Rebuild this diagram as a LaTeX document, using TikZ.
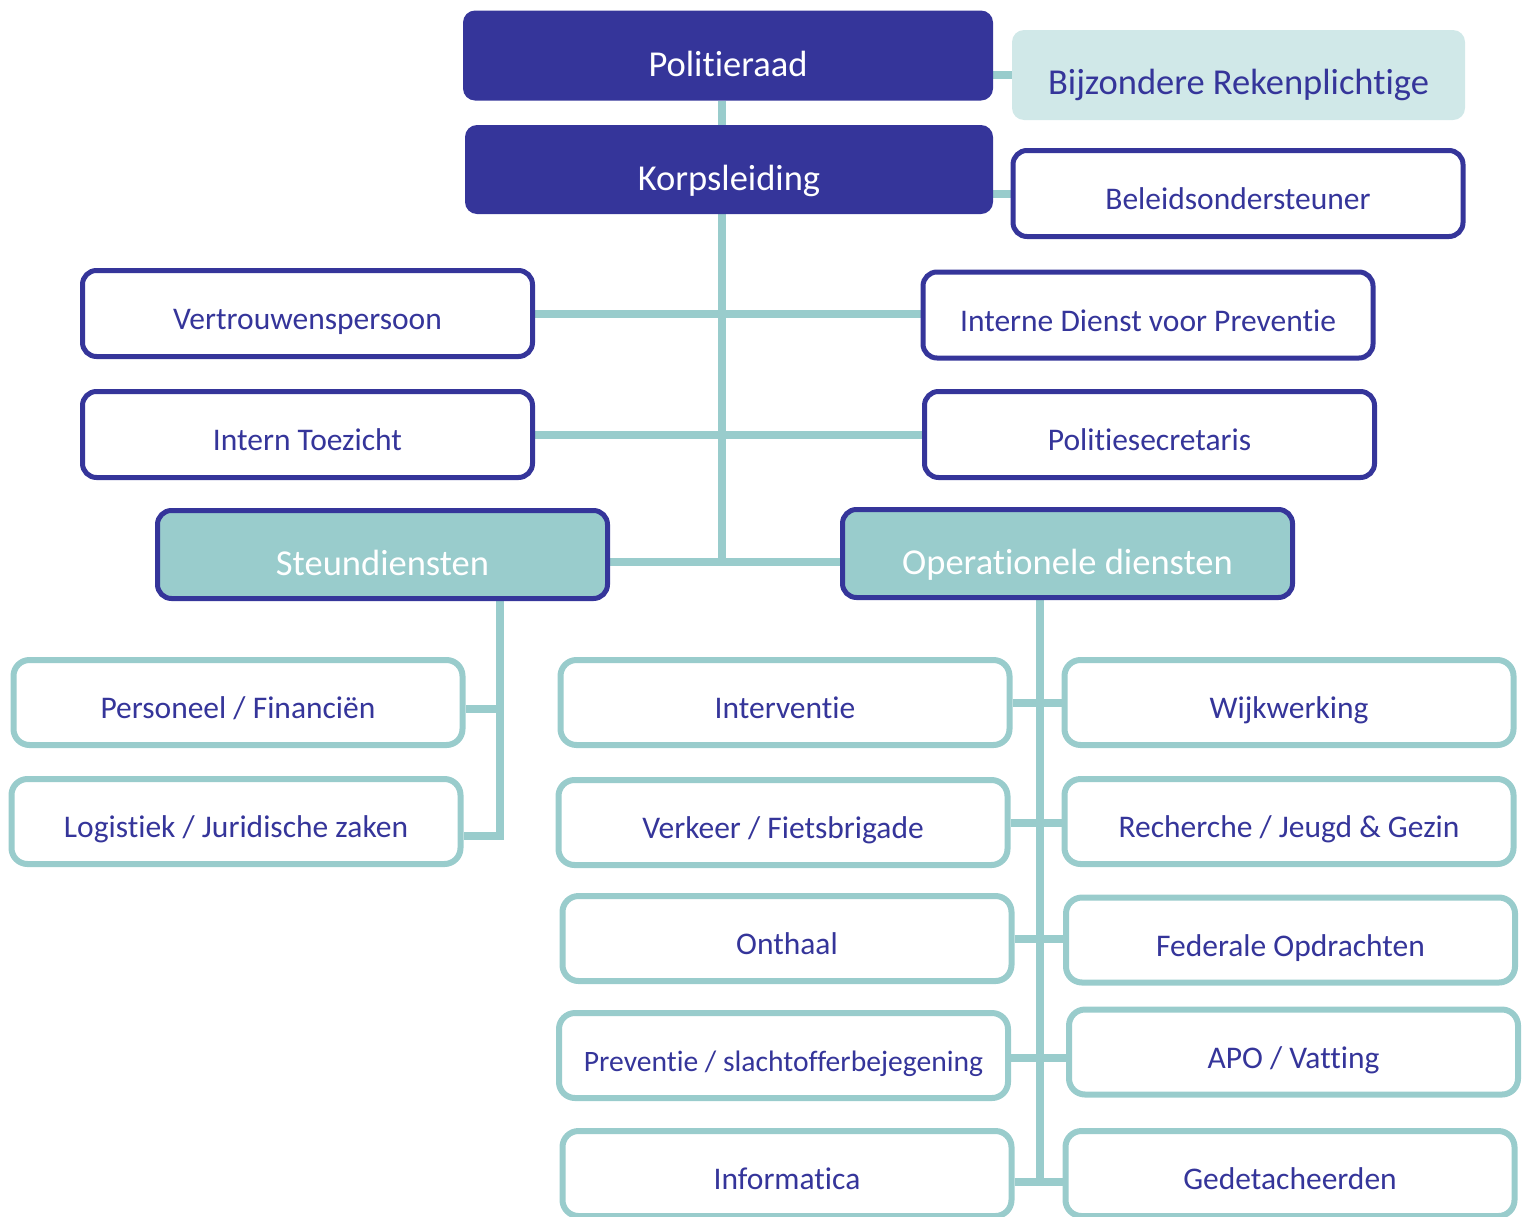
\documentclass[tikz,border=0pt]{standalone}
\usepackage{fontspec}
\setmainfont[Ligatures={NoCommon,NoRare},Contextuals=NoAlternate]{Carlito}
\usetikzlibrary{backgrounds}
\definecolor{navy}{RGB}{53,53,154}
\definecolor{aqua}{RGB}{153,204,204}
\definecolor{pale}{RGB}{208,232,232}
\begin{document}
\begin{tikzpicture}[x=1pt,y=-1pt,
   head/.style={rectangle,rounded corners=12pt,fill=navy,text=white,minimum height=90pt,
      font=\fontsize{36.5}{40}\selectfont,text height=41pt,text depth=0pt},
   side/.style={rectangle,rounded corners=12pt,fill=pale,text=navy,minimum width=453pt,minimum height=90pt,
      font=\fontsize{36.5}{40}\selectfont,text height=39pt,text depth=0pt},
   staff/.style={rectangle,rounded corners=14pt,draw=navy,line width=5pt,fill=white,text=navy,
      minimum width=450pt,minimum height=86pt,font=\fontsize{31.5}{36}\selectfont,text height=32pt,text depth=0pt},
   dept/.style={rectangle,rounded corners=14pt,draw=navy,line width=5pt,fill=aqua,text=white,
      minimum width=450pt,minimum height=88pt,font=\fontsize{36.5}{40}\selectfont,text height=41pt,text depth=0pt},
   unit/.style={rectangle,rounded corners=16pt,draw=aqua,line width=6pt,fill=white,text=navy,
      minimum width=449pt,minimum height=85pt,font=\fontsize{31.5}{36}\selectfont,text height=32pt,text depth=0pt},
   link/.style={draw=aqua,line width=8pt}]

   \useasboundingbox (0,0) rectangle (1526,1216);

   \path (728,55.5) node[head,minimum width=530pt] (1) {Politieraad};
   \path (729,169.5) node[head,minimum width=528pt,minimum height=89pt] (2) {Korpsleiding};
   \path (1238.5,75) node[side] (3) {Bijzondere Rekenplichtige};
   \path (1238,193.5) node[staff] (4) {Beleidsondersteuner};
   \path (307.5,313.5) node[staff] (5) {Vertrouwenspersoon};
   \path (1148,315) node[staff] (6) {Interne Dienst voor Preventie};
   \path (307.5,434.5) node[staff] (7) {Intern Toezicht};
   \path (1149.5,434.5) node[staff] (8) {Politiesecretaris};
   \path (382.5,554.5) node[dept] (9) {Steundiensten};
   \path (1067.5,553.5) node[dept] (10) {Operationele diensten};

   \path (238,702.5) node[unit] (11) {Personeel / Financiën};
   \path (236,821.5) node[unit] (12) {Logistiek / Juridische zaken};

   \path (785,702.5) node[unit] (13) {Interventie};
   \path (783,822.5) node[unit] (14) {Verkeer / Fietsbrigade};
   \path (787,938.5) node[unit] (15) {Onthaal};
   \path (783.5,1055.5) node[unit,font=\fontsize{29.6}{34}\selectfont] (16) {Preventie / slachtofferbejegening};
   \path (787,1173.5) node[unit] (17) {Informatica};
   \path (1289,702.5) node[unit] (18) {Wijkwerking};
   \path (1289,821.5) node[unit] (19) {Recherche / Jeugd \& Gezin};
   \path (1290.5,940) node[unit] (20) {Federale Opdrachten};
   \path (1293.5,1052) node[unit] (21) {APO / Vatting};
   \path (1290,1173.5) node[unit] (22) {Gedetacheerden};

   \coordinate (m) at (722,562);
   \coordinate (s) at (500,836);
   \coordinate (o) at (1040,1182);

   \begin{scope}[on background layer]
      \draw[link] (1.south -| m) -- (2.north -| m);
      \draw[link] (3.west) -- (3.west -| 1.east);
      \draw[link] (4.west) -- (4.west -| 2.east);
      \draw[link] (2.south -| m) -- (m);
      \draw[link] (5.east) -- (5.east -| 6.west);
      \draw[link] (7.east) -- (8.west);
      \draw[link] (9.east |- m) -- (10.west |- m);

      \draw[link] (9.south -| s) -- (s) -- (s -| 12.east);
      \draw[link] ([yshift=-6pt]11.east) -- ([yshift=-6pt]11.east -| s);

      \draw[link] (10.south -| o) -- (o);
      \draw[link] (13.east) -- (13.east -| 18.west);
      \draw[link] (14.east) -- (14.east -| 19.west);
      \draw[link] (15.east) -- (15.east -| 20.west);
      \draw[link] ([yshift=-2pt]16.east) -- ([yshift=-2pt]16.east -| 21.west);
      \draw[link] (o -| 17.east) -- (o -| 22.west);
   \end{scope}

\end{tikzpicture}
\end{document}
